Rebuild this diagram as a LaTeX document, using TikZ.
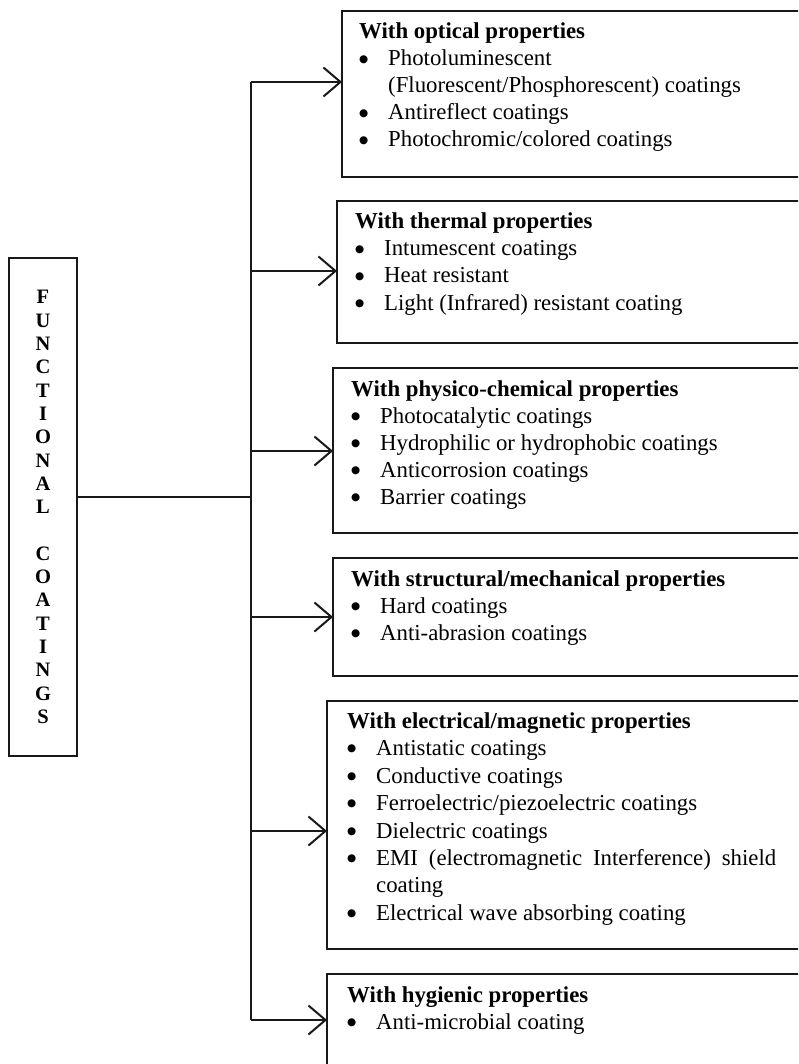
\documentclass[tikz,border=0pt]{standalone}
\usepackage{fontspec}
\setmainfont{Liberation Serif}
\newfontfamily\dotfont{DejaVu Sans}
\usetikzlibrary{arrows.meta}
\newcommand\bl{\llap{\raisebox{3.4pt}{\dotfont\fontsize{10.5}{10.5}\selectfont ●}\hspace{20pt}}}
\begin{document}
\begin{tikzpicture}[x=1pt,y=-1pt,
  frame/.style={draw=black!90, line width=2pt, inner sep=0pt, outer sep=0pt, anchor=north west},
  conn/.style={draw=black!90, line width=2pt},
  arr/.style={conn, -{Straight Barb[length=17pt,width=29pt]}},
  ttl/.style={anchor=base west, inner sep=0pt, font=\bfseries\fontsize{22.8}{27}\selectfont},
  itm/.style={anchor=base west, inner sep=0pt, font=\fontsize{22.8}{27}\selectfont}]
\useasboundingbox (0,0) rectangle (798,1064);
\clip (0,0) rectangle (798,1064);

% left box
\node[frame, anchor=center, minimum width=68pt, minimum height=498pt, align=center,
  font=\bfseries\fontsize{20.5}{23.3}\selectfont] (FC) at (43,507)
  {F\\U\\N\\C\\T\\I\\O\\N\\A\\L\\[23.3pt]C\\O\\A\\T\\I\\N\\G\\S};

% boxes
\node[frame, minimum width=520pt, minimum height=166pt] (B1) at (342,11) {};
\node[frame, minimum width=520pt, minimum height=142pt] (B2) at (337,201) {};
\node[frame, minimum width=520pt, minimum height=165pt] (B3) at (333,368) {};
\node[frame, minimum width=520pt, minimum height=118pt] (B4) at (333,558) {};
\node[frame, minimum width=520pt, minimum height=248pt] (B5) at (327,701) {};
\node[frame, minimum width=520pt, minimum height=150pt] (B6) at (327,974) {};

% connectors
\coordinate (H) at (251,497);
\coordinate (J1) at (251,82);
\coordinate (J2) at (251,271);
\coordinate (J3) at (251,451);
\coordinate (J4) at (251,617);
\coordinate (J5) at (251,831);
\coordinate (J6) at (251,1020);
\draw[conn] (FC.east |- H) -- (H);
\draw[conn] (J1) -- (J6);
\draw[arr] (J1) -- (J1 -| B1.west);
\draw[arr] (J2) -- (J2 -| B2.west);
\draw[arr] (J3) -- (J3 -| B3.west);
\draw[arr] (J4) -- (J4 -| B4.west);
\draw[arr] (J5) -- (J5 -| B5.west);
\draw[arr] (J6) -- (J6 -| B6.west);

% box 1
\node[ttl] (T1) at (359,39) {With optical properties};
\node[itm] (I1a) at (388,66) {\bl Photoluminescent};
\node[itm] (I1b) at (388,93) {(Fluorescent/Phosphorescent) coatings};
\node[itm] (I1c) at (388,120) {\bl Antireflect coatings};
\node[itm] (I1d) at (388,147) {\bl Photochromic/colored coatings};

% box 2
\node[ttl] (T2) at (355,229) {With thermal properties};
\node[itm] (I2a) at (384,256) {\bl Intumescent coatings};
\node[itm] (I2b) at (384,283) {\bl Heat resistant};
\node[itm] (I2c) at (384,310) {\bl Light (Infrared) resistant coating};

% box 3
\node[ttl] (T3) at (351,396) {With physico-chemical properties};
\node[itm] (I3a) at (380,423) {\bl Photocatalytic coatings};
\node[itm] (I3b) at (380,450) {\bl Hydrophilic or hydrophobic coatings};
\node[itm] (I3c) at (380,477) {\bl Anticorrosion coatings};
\node[itm] (I3d) at (380,504) {\bl Barrier coatings};

% box 4
\node[ttl] (T4) at (351,586) {With structural/mechanical properties};
\node[itm] (I4a) at (380,613) {\bl Hard coatings};
\node[itm] (I4b) at (380,640) {\bl Anti-abrasion coatings};

% box 5
\node[ttl] (T5) at (347,728) {With electrical/magnetic properties};
\node[itm] (I5a) at (376,755) {\bl Antistatic coatings};
\node[itm] (I5b) at (376,783) {\bl Conductive coatings};
\node[itm] (I5c) at (376,810) {\bl Ferroelectric/piezoelectric coatings};
\node[itm] (I5d) at (376,838) {\bl Dielectric coatings};
\node[itm] (I5e) at (376,865) {\bl\makebox[400pt][s]{EMI (electromagnetic Interference) shield}};
\node[itm] (I5f) at (376,892) {coating};
\node[itm] (I5g) at (376,920) {\bl Electrical wave absorbing coating};

% box 6
\node[ttl] (T6) at (347,1002) {With hygienic properties};
\node[itm] (I6a) at (376,1029) {\bl Anti-microbial coating};
\end{tikzpicture}
\end{document}
